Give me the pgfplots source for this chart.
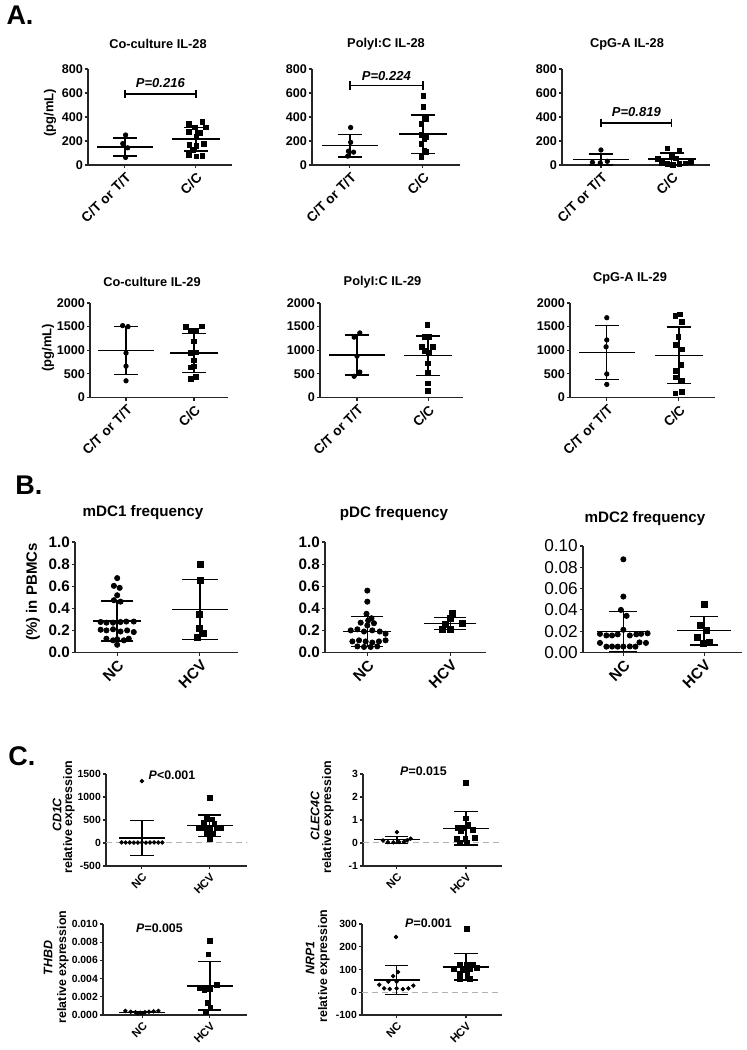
\documentclass[border=0pt]{standalone}
\usepackage{pgfplots}
\pgfplotsset{compat=1.18}
\usepackage{fontspec}
\setmainfont{Liberation Sans}
\newcommand\fs[1]{\fontsize{#1}{#1}\selectfont\bfseries}
\newcommand\fn[1]{\fontsize{#1}{#1}\selectfont}
\pgfplotsset{
 prism/.style={scale only axis, anchor=south west, axis lines=left,
   axis line style={-, line width=0.55pt, black!85},
   tick style={line width=0.55pt, black!85}, tick align=outside, major tick length=1.6pt,
   clip=false, xtick={1,2}, scaled y ticks=false,
   xticklabel style={rotate=45, anchor=north east, inner sep=1pt},
   yticklabel style={inner sep=0.8pt}},
 Arow/.style={prism, xticklabels={C/T or T/T,C/C},
   yticklabel style={font=\fs{6.3}}, xticklabel style={font=\fs{6.8}}},
 Brow/.style={prism, xticklabels={NC,HCV}, xticklabel style={font=\fs{7.6}}},
 Crow/.style={prism, xticklabels={NC,HCV}, yticklabel style={font=\fs{5.2}}, xticklabel style={font=\fs{5.6}}},
 dots/.style={only marks, mark=*, mark size=#1, black},
 sqs/.style={only marks, mark=square*, mark size=#1, black},
 msd/.style n args={2}{only marks, black, mark=-, mark size=#1, mark options={line width=0.7pt},
   error bars/.cd, y dir=both, y explicit, error mark=|,
   error mark options={mark size=#2, line width=0.7pt, black},
   error bar style={line width=0.7pt, black}},
 pbar/.style={black, line width=0.7pt, mark=|, mark size=2.2pt, mark options={line width=0.7pt}},
 zline/.style={black!30, densely dashed, line width=0.5pt},
}
\begin{document}
\begin{tikzpicture}
\useasboundingbox (0,0) rectangle (373.5pt,525pt);
% ---------------- Panel A row 1 ----------------
\begin{axis}[Arow, at={(44pt,442.5pt)}, width=72pt, height=48pt, xmin=0.48, xmax=2.51, ymin=0, ymax=800,
  ytick={0,200,400,600,800}, yticklabels={0,200,400,600,800}]
\addplot[dots=1.1pt] coordinates {(1.01,250) (0.97,178) (1.04,143) (1.01,63)};
\addplot[sqs=1.15pt] coordinates {(1.90,341)(2.09,358)(1.99,312)(2.14,312)(1.90,278)(2.06,269)(2.01,235)(2.11,178)(1.91,169)(2.01,158)(1.96,126)(1.90,83)(2.01,72)(2.09,77)};
\addplot[msd={14pt}{6pt}] coordinates {(1,151) +- (0,75)};
\addplot[msd={12pt}{6pt}] coordinates {(2,215) +- (0,98)};
\addplot[pbar] coordinates {(1,592)(2,592)};
\node[font=\fs{6.5}\itshape] at (axis cs:1.5,680) {P=0.216};
\end{axis}
\begin{axis}[Arow, at={(156pt,442.5pt)}, width=74pt, height=48pt, xmin=0.48, xmax=2.51, ymin=0, ymax=800,
  ytick={0,200,400,600,800}, yticklabels={0,200,400,600,800}]
\addplot[dots=1.1pt] coordinates {(1.01,312)(1.01,189)(0.98,115)(1.05,107)(0.97,74)};
\addplot[sqs=1.15pt] coordinates {(2.01,575)(2.01,485)(2.05,384)(1.98,340)(1.98,252)(2.05,233)(2.02,216)(1.98,178)(2.02,115)(2.05,110)(1.98,68)};
\addplot[msd={14pt}{6pt}] coordinates {(1,160) +- (0,93)};
\addplot[msd={12pt}{6pt}] coordinates {(2,258) +- (0,160)};
\addplot[pbar] coordinates {(1,661)(2,661)};
\node[font=\fs{6.5}\itshape] at (axis cs:1.5,740) {P=0.224};
\end{axis}
\begin{axis}[Arow, at={(281pt,442.5pt)}, width=74pt, height=48pt, xmin=0.45, xmax=2.54, ymin=0, ymax=800,
  ytick={0,200,400,600,800}, yticklabels={0,200,400,600,800}]
\addplot[dots=1.1pt] coordinates {(1.0,125)(0.88,22)(0.99,17)(1.09,31)};
\addplot[sqs=1.15pt] coordinates {(1.94,139)(2.11,120)(2.0,83)(1.8,50)(2.06,56)(1.86,17)(1.94,8)(2.02,3)(2.11,11)(2.19,14)(2.27,28)};
\addplot[msd={14pt}{6pt}] coordinates {(1,46) +- (0,45)};
\addplot[msd={12pt}{6pt}] coordinates {(2,50) +- (0,50)};
\addplot[pbar] coordinates {(1,350)(2,350)};
\node[font=\fs{6.5}\itshape] at (axis cs:1.5,440) {P=0.819};
\end{axis}
% ---------------- Panel A row 2 ----------------
\begin{axis}[Arow, at={(45pt,326.25pt)}, width=69pt, height=47.25pt, xmin=0.47, xmax=2.5, ymin=0, ymax=2000,
  ytick={0,500,1000,1500,2000}, yticklabels={0,500,1000,1500,2000}]
\addplot[dots=1.1pt] coordinates {(0.95,1521)(1.03,1500)(1.0,941)(1.0,662)(1.0,353)};
\addplot[sqs=1.15pt] coordinates {(1.88,1492)(2.12,1507)(1.95,1411)(2.03,1419)(2.0,1191)(1.95,941)(2.03,956)(2.0,786)(1.95,639)(2.0,662)(1.95,390)(2.03,441)};
\addplot[msd={14pt}{6pt}] coordinates {(1,995) +- (0,510)};
\addplot[msd={12pt}{6pt}] coordinates {(2,945) +- (0,410)};
\end{axis}
\begin{axis}[Arow, at={(160pt,326.25pt)}, width=71.5pt, height=47.25pt, xmin=0.48, xmax=2.49, ymin=0, ymax=2000,
  ytick={0,500,1000,1500,2000}, yticklabels={0,500,1000,1500,2000}]
\addplot[dots=1.1pt] coordinates {(0.96,1277)(1.04,1366)(1.0,876)(1.04,538)(0.96,449)};
\addplot[sqs=1.15pt] coordinates {(1.99,1532)(1.95,1277)(2.02,1277)(1.91,1070)(2.07,1070)(1.95,980)(2.01,952)(2.0,725)(2.0,518)(2.0,297)(2.0,138)};
\addplot[msd={14pt}{6pt}] coordinates {(1,900) +- (0,420)};
\addplot[msd={12pt}{6pt}] coordinates {(2,885) +- (0,415)};
\end{axis}
\begin{axis}[Arow, at={(285pt,326.25pt)}, width=72.5pt, height=47.25pt, xmin=0.49, xmax=2.5, ymin=0, ymax=2000,
  ytick={0,500,1000,1500,2000}, yticklabels={0,500,1000,1500,2000}]
\addplot[dots=1.1pt] coordinates {(1,1688)(1,1218)(0.99,1073)(1,498)(1,277)};
\addplot[sqs=1.15pt] coordinates {(1.95,1730)(2.01,1758)(2.04,1605)(1.99,1280)(1.95,1107)(2.04,1017)(2.03,685)(1.95,567)(1.95,429)(2.04,360)(2.04,118)(1.95,83)};
\addplot[msd={14pt}{6pt}] coordinates {(1,950) +- (0,568)};
\addplot[msd={12pt}{6pt}] coordinates {(2,895) +- (0,600)};
\end{axis}
% ---------------- Panel B ----------------
\begin{axis}[Brow, at={(37.5pt,198.75pt)}, width=81.5pt, height=55.25pt, xmin=0.49, xmax=2.46, ymin=0, ymax=1,
  ytick={0,0.2,0.4,0.6,0.8,1}, yticklabels={0.0,0.2,0.4,0.6,0.8,1.0}, yticklabel style={font=\fs{7.6}}]
\addplot[dots=1.3pt] coordinates {(1.0,0.673)(0.96,0.603)(1.03,0.585)(1.0,0.518)(0.96,0.473)(1.04,0.46)
 (0.8,0.276)(0.87,0.27)(0.95,0.27)(1.04,0.276)(1.11,0.28)(1.2,0.28)
 (0.8,0.206)(0.87,0.2)(0.95,0.21)(1.04,0.19)(1.12,0.2)(1.2,0.185)
 (0.87,0.125)(0.95,0.11)(1.0,0.12)(1.08,0.11)(1.14,0.125)(1.0,0.07)};
\addplot[sqs=1.5pt] coordinates {(2,0.8)(2,0.655)(1.99,0.345)(1.99,0.215)(2.04,0.17)(1.97,0.14)};
\addplot[msd={12pt}{8pt}] coordinates {(1,0.285) +- (0,0.18)};
\addplot[msd={14pt}{9pt}] coordinates {(2,0.388) +- (0,0.27)};
\end{axis}
\begin{axis}[Brow, at={(162.5pt,198.75pt)}, width=80.5pt, height=55.25pt, xmin=0.49, xmax=2.43, ymin=0, ymax=1,
  ytick={0,0.2,0.4,0.6,0.8,1}, yticklabels={0.0,0.2,0.4,0.6,0.8,1.0}, yticklabel style={font=\fs{7.6}}]
\addplot[dots=1.3pt] coordinates {(1.0,0.56)(1.0,0.46)(0.99,0.35)(1.05,0.31)(1.01,0.29)(0.92,0.27)(1.08,0.265)(1.0,0.245)
 (0.8,0.2)(0.88,0.21)(0.96,0.19)(1.06,0.2)(1.15,0.19)(1.22,0.17)
 (0.82,0.1)(0.9,0.11)(0.98,0.1)(1.06,0.09)(1.14,0.1)(1.22,0.11)
 (0.88,0.055)(0.96,0.05)(1.04,0.05)(1.12,0.055)};
\addplot[sqs=1.5pt] coordinates {(2.03,0.358)(2.0,0.31)(1.94,0.255)(2.14,0.267)(1.91,0.206)(2.0,0.206)};
\addplot[msd={12pt}{8pt}] coordinates {(1,0.19) +- (0,0.137)};
\addplot[msd={13pt}{8pt}] coordinates {(2,0.262) +- (0,0.053)};
\end{axis}
\begin{axis}[Brow, at={(291.5pt,198.75pt)}, width=79.5pt, height=53.25pt, xmin=0.5, xmax=2.47, ymin=0, ymax=0.1,
  ytick={0,0.02,0.04,0.06,0.08,0.1}, yticklabels={0.00,0.02,0.04,0.06,0.08,0.10}, yticklabel style={font=\fn{8.6}}]
\addplot[dots=1.3pt] coordinates {(1.0,0.0875)(1.0,0.0525)(0.97,0.04)(1.04,0.0344)(1.0,0.0213)
 (0.71,0.0175)(0.79,0.016)(0.86,0.016)(0.93,0.017)(1.08,0.016)(1.16,0.017)(1.22,0.0175)(1.3,0.018)
 (0.71,0.009)(1.2,0.0095)(1.28,0.009)
 (0.79,0.0055)(0.86,0.0056)(0.93,0.0055)(1.0,0.0056)(1.08,0.0057)(1.15,0.0055)};
\addplot[sqs=1.5pt] coordinates {(2,0.0447)(1.95,0.025)(2.03,0.0206)(1.92,0.0144)(1.99,0.0088)(2.07,0.0097)};
\addplot[msd={13pt}{7pt}] coordinates {(1,0.0197) +- (0,0.019)};
\addplot[msd={13.5pt}{7pt}] coordinates {(2,0.0205) +- (0,0.0133)};
\end{axis}
% ---------------- Panel C ----------------
\begin{axis}[Crow, at={(53pt,92pt)}, width=70.5pt, height=46pt, xmin=0.47, xmax=2.55, ymin=-500, ymax=1500,
  ytick={-500,0,500,1000,1500}, yticklabels={-500,0,500,1000,1500}]
\addplot[zline] coordinates {(0.47,0)(2.55,0)};
\addplot[dots=0.9pt] coordinates {(1.0,1345)(0.7,12)(0.76,10)(0.82,12)(0.88,8)(0.94,10)(1.0,12)(1.06,8)(1.12,10)(1.18,12)(1.24,10)(1.3,12)};
\addplot[sqs=1.2pt] coordinates {(2.0,978)(1.96,520)(2.03,515)(1.92,430)(2.07,420)(1.84,330)(1.92,320)(2.0,310)(2.1,325)(2.16,320)(1.96,215)(2.05,210)(2.0,90)};
\addplot[msd={11.5pt}{5.8pt}] coordinates {(1,110) +- (0,385)};
\addplot[msd={11.5pt}{5.8pt}] coordinates {(2,375) +- (0,232)};
\end{axis}
\begin{axis}[Crow, at={(181.5pt,92pt)}, width=69.5pt, height=46pt, xmin=0.51, xmax=2.52, ymin=-1, ymax=3,
  ytick={-1,0,1,2,3}, yticklabels={-1,0,1,2,3}]
\addplot[zline] coordinates {(0.51,0)(2.52,0)};
\addplot[dots=0.9pt] coordinates {(1.0,0.47)(0.8,0.11)(0.87,0.04)(0.95,0.03)(1.03,0.04)(1.1,0.05)(1.2,0.19)(1.15,0.12)};
\addplot[sqs=1.2pt] coordinates {(2,2.6)(2,1.07)(2.03,0.79)(1.88,0.67)(1.96,0.64)(2.1,0.57)(1.92,0.53)(1.87,0.19)(2.13,0.23)(1.99,0.19)(1.91,0.02)(2.01,0.0)};
\addplot[msd={11.5pt}{5.8pt}] coordinates {(1,0.14) +- (0,0.15)};
\addplot[msd={11.5pt}{5.8pt}] coordinates {(2,0.64) +- (0,0.72)};
\end{axis}
\begin{axis}[Crow, at={(51.5pt,17.5pt)}, width=72pt, height=45.5pt, xmin=0.42, xmax=2.55, ymin=0, ymax=0.01,
  ytick={0,0.002,0.004,0.006,0.008,0.01}, yticklabels={0.000,0.002,0.004,0.006,0.008,0.010}]
\addplot[dots=0.9pt] coordinates {(0.75,0.00045)(0.83,0.00035)(0.9,0.0003)(0.97,0.00025)(1.04,0.0003)(1.1,0.00035)(1.17,0.0004)(1.24,0.00045)(0.93,0.0002)(1.0,0.0002)};
\addplot[sqs=1.2pt] coordinates {(2.0,0.00815)(1.98,0.00667)(1.85,0.00296)(1.92,0.00278)(2.0,0.00285)(2.1,0.00333)(1.97,0.0013)(2.01,0.00074)(1.94,0.00037)};
\addplot[msd={11.5pt}{5.8pt}] coordinates {(1,0.0003) +- (0,0.00005)};
\addplot[msd={11.5pt}{5.8pt}] coordinates {(2,0.0032) +- (0,0.00265)};
\end{axis}
\begin{axis}[Crow, at={(181pt,17.5pt)}, width=70pt, height=45.5pt, xmin=0.5, xmax=2.52, ymin=-100, ymax=300,
  ytick={-100,0,100,200,300}, yticklabels={-100,0,100,200,300}]
\addplot[zline] coordinates {(0.5,0)(2.52,0)};
\addplot[dots=0.9pt] coordinates {(0.99,243)(1.02,89)(0.95,71)(0.88,47)(1.0,47)(0.75,33)(0.82,17)(0.9,14)(1.0,17)(1.09,14)(1.17,17)(1.24,29)};
\addplot[sqs=1.2pt] coordinates {(2.01,279)(1.91,121)(2.01,119)(2.1,119)(1.83,100)(1.96,96)(2.06,100)(2.16,107)(1.91,79)(2.02,79)(1.91,57)(2.06,57)};
\addplot[msd={11.5pt}{5.8pt}] coordinates {(1,53) +- (0,64)};
\addplot[msd={11.5pt}{5.8pt}] coordinates {(2,111) +- (0,58)};
\end{axis}
% ---------------- Texts ----------------
\node[font=\fs{13.5}] at (10pt,517.5pt) {A.};
\node[font=\fs{13.5}] at (14.5pt,282.5pt) {B.};
\node[font=\fs{13.5}] at (11pt,147pt) {C.};
\node[font=\fs{6.4}] at (79pt,503pt) {Co-culture IL-28};
\node[font=\fs{6.4}] at (193pt,503pt) {PolyI:C IL-28};
\node[font=\fs{6.4}] at (313.5pt,503pt) {CpG-A IL-28};
\node[font=\fs{6.4}] at (76pt,384pt) {Co-culture IL-29};
\node[font=\fs{6.4}] at (191.25pt,384pt) {PolyI:C IL-29};
\node[font=\fs{6.4}] at (315pt,386pt) {CpG-A IL-29};
\node[font=\fs{6.5}, rotate=90] at (25pt,468.5pt) {(pg/mL)};
\node[font=\fs{6.5}, rotate=90] at (24pt,351pt) {(pg/mL)};
\node[font=\fs{7.6}] at (71.5pt,268.5pt) {mDC1 frequency};
\node[font=\fs{7.6}] at (197pt,268pt) {pDC frequency};
\node[font=\fs{7.6}] at (322.5pt,265.5pt) {mDC2 frequency};
\node[font=\fs{7.5}, rotate=90] at (16.5pt,229pt) {(\%) in PBMCs};
\node[font=\fs{6.2}\itshape, rotate=90] at (28.5pt,117.5pt) {CD1C};
\node[font=\fs{6.2}, rotate=90] at (34.5pt,116.5pt) {relative expression};
\node[font=\fs{6.2}\itshape, rotate=90] at (24pt,46pt) {THBD};
\node[font=\fs{6.2}, rotate=90] at (31.5pt,41.5pt) {relative expression};
\node[font=\fs{6.2}\itshape, rotate=90] at (157.5pt,117pt) {CLEC4C};
\node[font=\fs{6.2}, rotate=90] at (164pt,116.5pt) {relative expression};
\node[font=\fs{6.2}\itshape, rotate=90] at (155pt,46pt) {NRP1};
\node[font=\fs{6.2}, rotate=90] at (162pt,42pt) {relative expression};
\node[font=\fs{6.2}] at (86pt,137.5pt) {\textit{P}<0.001};
\node[font=\fs{6.2}] at (79.75pt,61pt) {\textit{P}=0.005};
\node[font=\fs{6.2}] at (211.75pt,139.2pt) {\textit{P}=0.015};
\node[font=\fs{6.2}] at (214.25pt,63.5pt) {\textit{P}=0.001};
\end{tikzpicture}
\end{document}
